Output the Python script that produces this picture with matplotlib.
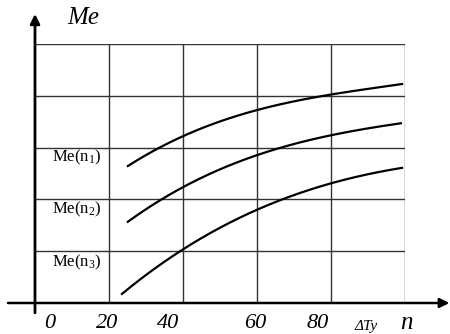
import matplotlib
matplotlib.use("Agg")
import matplotlib.pyplot as plt
import numpy as np

plt.rcParams["mathtext.fontset"] = "custom"
plt.rcParams["mathtext.rm"] = "Liberation Serif"
plt.rcParams["mathtext.it"] = "Liberation Serif:italic"

# data
x_ticks = [20, 40, 60, 80, 100]
y_grid = [1, 2, 3, 4, 5]
tick_labels = ["0", "20", "40", "60", "80"]
tick_label_pos = [4.1, 19.5, 35.9, 59.5, 76.5]

c1_x = [25.1, 32, 39.7, 50, 60, 70, 80, 90, 99.2]
c1_y = [2.64, 2.95, 3.20, 3.50, 3.73, 3.90, 4.02, 4.13, 4.23]
c2_x = [25.1, 32, 39.7, 50, 60, 70, 80, 90, 98.9]
c2_y = [1.56, 1.92, 2.22, 2.57, 2.86, 3.07, 3.24, 3.37, 3.47]
c3_x = [23.5, 30, 39.7, 50, 60, 70, 80, 90, 99.2]
c3_y = [0.17, 0.55, 1.02, 1.45, 1.80, 2.08, 2.32, 2.48, 2.61]

curve_labels = ["Me(n$_1$)", "Me(n$_2$)", "Me(n$_3$)"]
curve_label_y = [2.82, 1.80, 0.79]

fig = plt.figure(figsize=(4.5, 3.34), dpi=100)
W, H = 450, 334
ax = fig.add_axes([35 / W, (H - 303) / H, 370 / W, 259 / H])
ax.set_xlim(0, 100)
ax.set_ylim(0, 5)

gc = "#333333"
for xv in x_ticks:
    ax.axvline(xv, color=gc, lw=1.0, zorder=1)
for yv in y_grid:
    ax.axhline(yv, color=gc, lw=1.0, zorder=1)
for s in ax.spines.values():
    s.set_visible(False)
ax.set_xticks([])
ax.set_yticks([])

for xs, ys in [(c1_x, c1_y), (c2_x, c2_y), (c3_x, c3_y)]:
    xx = np.linspace(xs[0], xs[-1], 200)
    coef = np.polyfit(xs, ys, 3)
    ax.plot(xx, np.polyval(coef, xx), color="black", lw=1.6, zorder=3)

# axes with arrows
ax.annotate("", xy=(112, 0), xytext=(-7.3, 0), xycoords="data",
            arrowprops=dict(arrowstyle="-|>", color="black", lw=1.8,
                            mutation_scale=14, shrinkA=0, shrinkB=0),
            annotation_clip=False)
ax.annotate("", xy=(0, 5.58), xytext=(0, -0.19), xycoords="data",
            arrowprops=dict(arrowstyle="-|>", color="black", lw=2.0,
                            mutation_scale=14, shrinkA=0, shrinkB=0),
            annotation_clip=False)

serif = "Liberation Serif"
for lab, xp in zip(tick_labels, tick_label_pos):
    ax.text(xp, -0.4, lab, ha="center", va="center", fontsize=16,
            family=serif, style="italic", clip_on=False)
ax.text(89.5, -0.45, "ΔTy", ha="center", va="center", fontsize=11,
        family=serif, style="italic", clip_on=False)
ax.text(100.3, -0.38, "n", ha="center", va="center", fontsize=18,
        family=serif, style="italic", clip_on=False)
ax.text(8.6, 5.5, "Me", ha="left", va="center", fontsize=18,
        family=serif, style="italic", clip_on=False)

for lab, yp in zip(curve_labels, curve_label_y):
    ax.text(4.5, yp, lab, ha="left", va="center", fontsize=12,
            family=serif, zorder=4)

fig.savefig("out.png", dpi=100)
